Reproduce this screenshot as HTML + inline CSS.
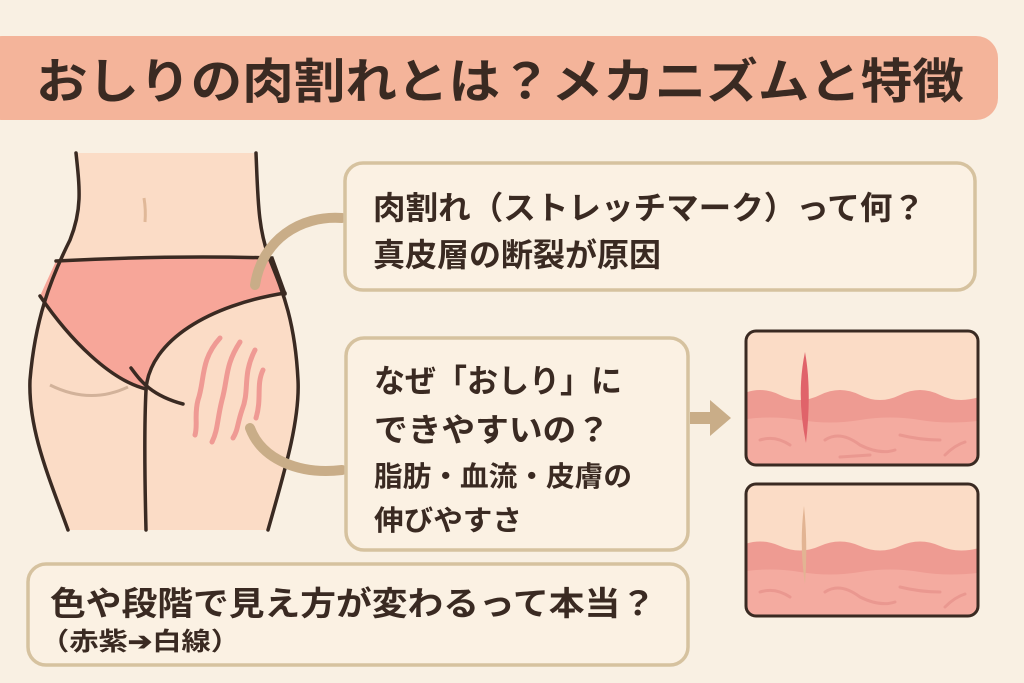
<!DOCTYPE html>
<html><head><meta charset="utf-8"><style>
html,body{margin:0;padding:0;background:#f9f0e3}
svg{display:block}
text{font-family:"Liberation Sans","Noto Sans CJK JP",sans-serif;font-weight:bold;fill:#3a2a22}
</style></head><body>
<svg width="1024" height="683" viewBox="0 0 1024 683" xmlns="http://www.w3.org/2000/svg">
<rect width="1024" height="683" fill="#f9f0e3"/>
<rect x="-20" y="36" width="1018" height="84" rx="22" fill="#f4b49a"/>
<text x="36" y="98" font-size="48" textLength="928" lengthAdjust="spacingAndGlyphs">おしりの肉割れとは？メカニズムと特徴</text>

<!-- body -->
<path d="M76,153 C80,190 82,210 70,240 C50,280 35,320 30,380 C28,430 50,480 68,530 L268,530 C285,470 300,420 298,380 C295,320 282,290 270,260 C258,230 258,200 256,153 Z" fill="#fbdcc6"/>
<path d="M56,261 Q170,255 272,258 L285,294 C210,305 150,340 146,389 C110,380 70,340 40,296 Z" fill="#f7a699"/>
<g fill="none" stroke="#3a2a22" stroke-width="3.5" stroke-linecap="round">
<path d="M76,153 C80,190 82,210 70,240 C50,280 35,320 30,380 C28,430 50,480 68,530"/>
<path d="M256,153 C258,200 258,230 270,260 C282,290 295,320 298,380 C300,420 285,470 268,530"/>
<path d="M56,261 Q170,255 272,258 L285,294"/>
<path d="M40,296 C70,340 110,380 146,389 C150,340 210,305 285,293"/>
<path d="M146,390 C144,430 145,490 146,530"/>
<path d="M131,368 C140,380 150,395 183,404"/>
</g>
<path d="M50,385 Q90,405 128,387" fill="none" stroke="#d2b29a" stroke-width="3"/>
<path d="M144,198 Q146,210 145,222" fill="none" stroke="#e0b898" stroke-width="3"/>
<g fill="none" stroke="#ef9a94" stroke-width="5" stroke-linecap="round">
<path d="M220,338 C200,360 205,380 198,400 C194,415 198,425 195,435"/>
<path d="M240,342 C225,365 228,378 222,400 C217,420 218,430 212,442"/>
<path d="M255,350 C242,375 250,390 242,410 C237,425 238,430 233,438"/>
<path d="M263,370 C256,385 262,398 256,418"/>
</g>

<!-- connectors -->
<path d="M255,285 C262,240 300,215 342,218" fill="none" stroke="#c9ad88" stroke-width="10" stroke-linecap="round"/>
<path d="M250,428 C262,460 300,475 342,470" fill="none" stroke="#c9ad88" stroke-width="10" stroke-linecap="round"/>
<path d="M690,412 L710,412 L710,400 L731,418 L710,436 L710,424 L690,424 Z" fill="#c9ad88"/>

<!-- boxes -->
<rect x="345" y="163" width="630" height="127" rx="18" fill="#fbf1e3" stroke="#d6c29f" stroke-width="3.5"/>
<text x="373" y="219" font-size="32" textLength="552" lengthAdjust="spacingAndGlyphs">肉割れ（ストレッチマーク）って何？</text>
<text x="373" y="266" font-size="32" textLength="288" lengthAdjust="spacingAndGlyphs">真皮層の断裂が原因</text>

<rect x="346" y="338" width="342" height="212" rx="18" fill="#fbf1e3" stroke="#d6c29f" stroke-width="3.5"/>
<text x="374" y="392" font-size="32" textLength="248" lengthAdjust="spacingAndGlyphs">なぜ「おしり」に</text>
<text x="374" y="441" font-size="32" textLength="236" lengthAdjust="spacingAndGlyphs">できやすいの？</text>
<text x="374" y="486" font-size="28" textLength="258" lengthAdjust="spacingAndGlyphs">脂肪・血流・皮膚の</text>
<text x="374" y="530" font-size="28" textLength="148" lengthAdjust="spacingAndGlyphs">伸びやすさ</text>

<rect x="28" y="564" width="660" height="101" rx="18" fill="#fbf1e3" stroke="#d6c29f" stroke-width="3.5"/>
<text x="50" y="615" font-size="33" textLength="606" lengthAdjust="spacingAndGlyphs">色や段階で見え方が変わるって本当？</text>
<text x="40" y="650" font-size="25" textLength="200" lengthAdjust="spacingAndGlyphs">（赤紫➔白線）</text>

<!-- skin pictures -->
<defs>
<clipPath id="c1"><rect x="746" y="331" width="232" height="134" rx="10"/></clipPath>
<clipPath id="c2"><rect x="746" y="484" width="232" height="132" rx="10"/></clipPath>
</defs>
<g clip-path="url(#c1)">
<rect x="740" y="325" width="245" height="145" fill="#fbdcc6"/>
<path d="M740,395 Q760,385 780,395 T820,395 T860,395 T900,395 T940,395 T985,395 L985,470 L740,470 Z" fill="#ee9b92"/>
<path d="M740,420 Q770,415 800,420 T860,420 T920,420 T985,420 L985,470 L740,470 Z" fill="#f4aba0"/>
<g fill="none" stroke="#ea9890" stroke-width="3" stroke-linecap="round"><path d="M760,440 Q775,435 790,445"/><path d="M825,440 Q840,430 860,445 Q880,455 895,450"/><path d="M900,435 Q920,440 940,440"/><path d="M945,455 Q955,445 965,442"/><path d="M840,457 L870,455"/></g>
<path d="M805,352 Q812,390 806,443 Q796,395 805,352 Z" fill="#e0636a"/>
</g>
<rect x="746" y="331" width="232" height="134" rx="10" fill="none" stroke="#3a2a22" stroke-width="3"/>
<g clip-path="url(#c2)">
<rect x="740" y="478" width="245" height="145" fill="#fbdcc6"/>
<path d="M740,546 Q760,537 780,546 T820,546 T860,546 T900,546 T940,546 T985,546 L985,625 L740,625 Z" fill="#ee9b92"/>
<path d="M740,572 Q770,567 800,572 T860,572 T920,572 T985,572 L985,625 L740,625 Z" fill="#f4aba0"/>
<g fill="none" stroke="#ea9890" stroke-width="3" stroke-linecap="round"><path d="M760,592 Q775,587 790,597"/><path d="M825,592 Q840,582 860,597 Q880,607 895,602"/><path d="M900,587 Q920,592 940,592"/><path d="M945,607 Q955,597 965,594"/></g>
<path d="M804,506 Q808,545 805,584 Q799,545 804,506 Z" fill="#e2b493"/>
</g>
<rect x="746" y="484" width="232" height="132" rx="10" fill="none" stroke="#3a2a22" stroke-width="3"/>
</svg>
</body></html>
